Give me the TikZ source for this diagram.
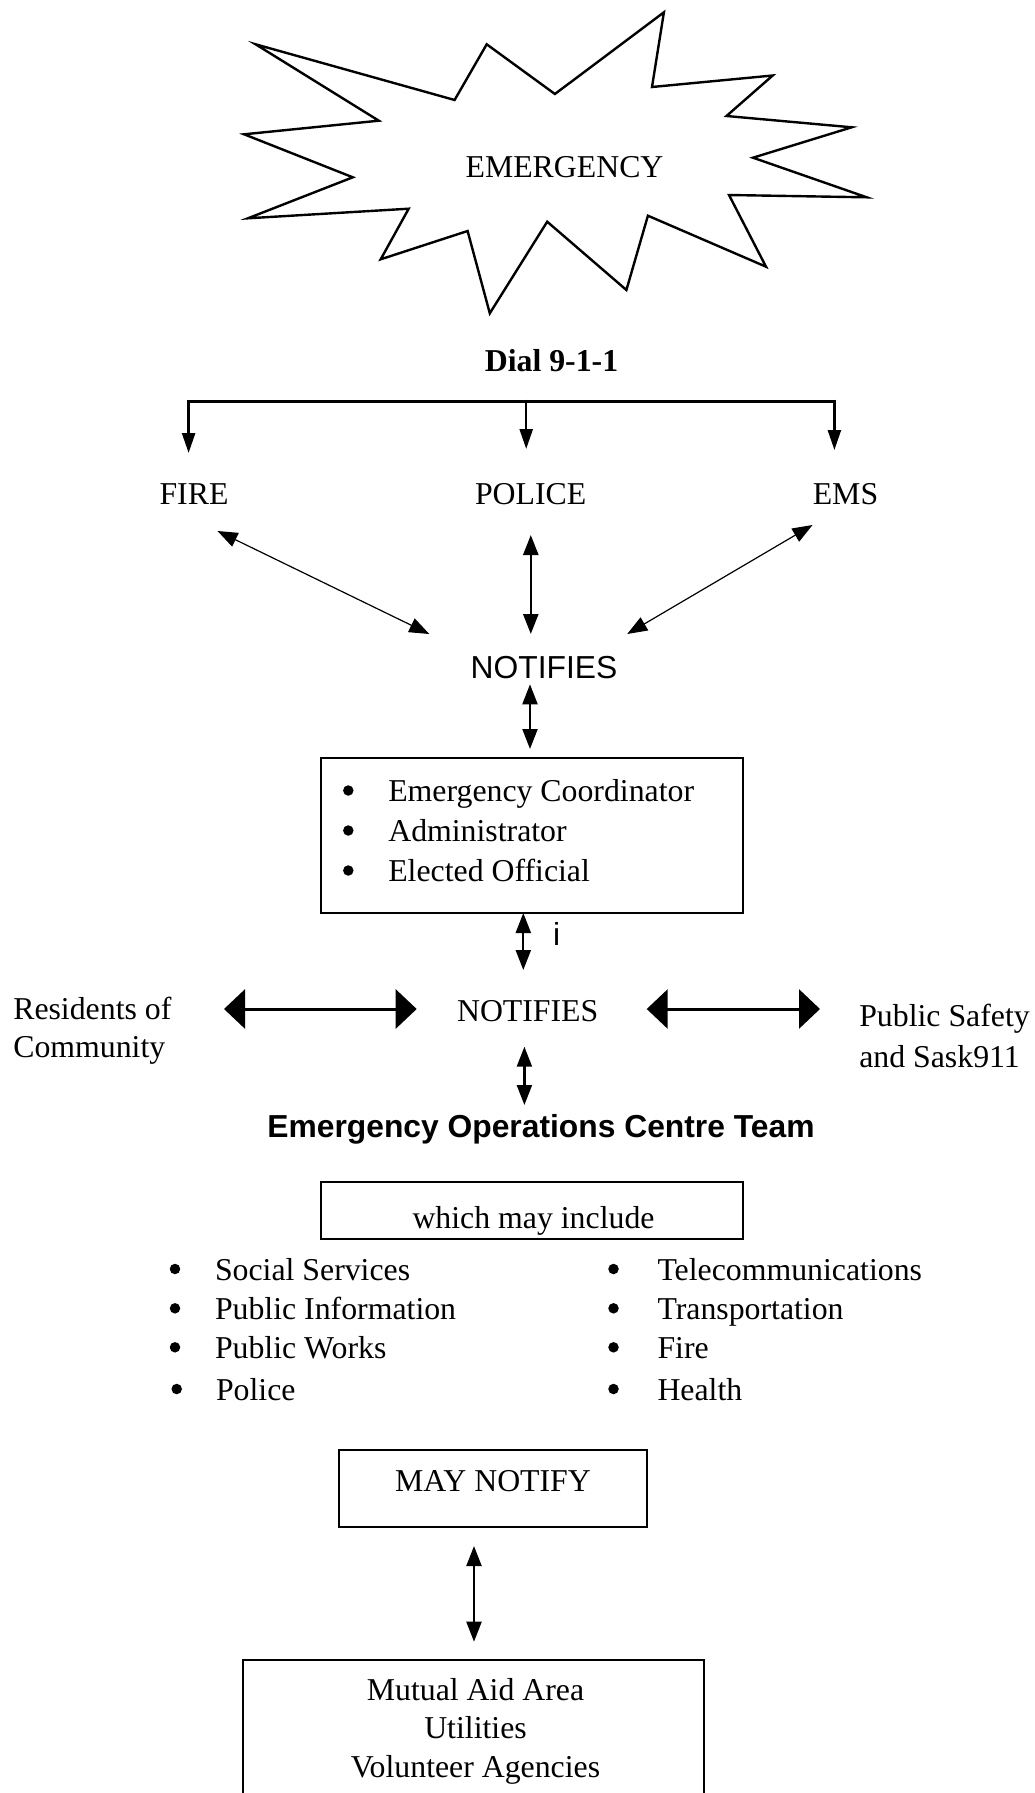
\documentclass[tikz,border=0pt]{standalone}
\usepackage{fontspec}
\setmainfont{Liberation Serif}
\setsansfont{Liberation Sans}
\usetikzlibrary{arrows.meta}
\newcommand\myfs{\fontsize{31.8}{38}\selectfont}
\begin{document}
\begin{tikzpicture}[x=1pt,y=-1pt,
  every node/.style={inner sep=0pt,outer sep=0pt,font=\myfs},
  lbl/.style={anchor=base},
  lbll/.style={anchor=base west},
  bul/.style={circle,fill,minimum size=10.5pt},
  frame/.style={draw,line width=1.8pt},
  darr/.style={line width=2.5pt,-{Triangle[length=20pt,width=13pt]}},
  diag/.style={line width=1.2pt,{Triangle[length=20pt,width=15pt]}-{Triangle[length=20pt,width=15pt]}},
  vdbl/.style={line width=2.2pt,{Triangle[length=20pt,width=15pt]}-{Triangle[length=20pt,width=15pt]}},
  hbig/.style={line width=3pt,{Triangle[length=21pt,width=39pt]}-{Triangle[length=21pt,width=39pt]}},
]
\useasboundingbox (0,0) rectangle (1034,1793);

% starburst
\draw[line width=2.4pt] (255.6,44.3) -- (378.8,120.7) -- (244.1,134.3) -- (352.8,177.3)
  -- (247.9,218.3) -- (408.7,208.7) -- (380.7,259.3) -- (467.6,231) -- (489.8,313.3)
  -- (547.2,221.7) -- (626.4,290) -- (647.9,215.7) -- (766,266.7) -- (729,195)
  -- (866.7,197.3) -- (753,157.7) -- (851.7,127.3) -- (726.5,116) -- (772.7,75.5)
  -- (652,87) -- (663.9,12.3) -- (554.9,94) -- (486.7,44.3) -- (454.6,100) -- cycle;
\node[lbl] (emg) at (564.5,177) {EMERGENCY};

% dial
\node[lbl,font=\myfs\bfseries] (dial) at (551.5,371) {Dial 9-1-1};
\coordinate (brL) at (187.3,401);
\coordinate (brR) at (835.4,401);
\draw[line width=3pt] (brL) -- (brR);
\coordinate (dF0) at (188.6,399.5); \coordinate (dF1) at (188.6,453);
\coordinate (dP0) at (526.2,399.5); \coordinate (dP1) at (526.2,449);
\coordinate (dE0) at (834.4,399.5); \coordinate (dE1) at (834.4,450);
\draw[darr] (dF0) -- (dF1);
\draw[darr] (dP0) -- (dP1);
\draw[darr] (dE0) -- (dE1);

\node[lbl] (fire) at (194,504) {FIRE};
\node[lbl] (police) at (530.7,504) {POLICE};
\node[lbl] (ems) at (845.5,504) {EMS};

\coordinate (fA) at (217.5,531); \coordinate (fB) at (429.3,634);
\coordinate (pA) at (530.8,535); \coordinate (pB) at (530.8,634);
\coordinate (eA) at (812.5,525); \coordinate (eB) at (627.2,634);
\draw[diag] (fA) -- (fB);
\draw[vdbl,line width=2.5pt] (pA) -- (pB);
\draw[diag] (eA) -- (eB);

\node[lbl,font=\myfs\sffamily] (notif1) at (544,678) {NOTIFIES};
\coordinate (n1a) at (530,684.3); \coordinate (n1b) at (530,749);
\draw[vdbl] (n1a) -- (n1b);

% coordinator box
\node[frame,minimum width=422.6pt,minimum height=154.4pt] (cbox) at (532,835.5) {};
\node[bul] (b1) at (348.3,790.5) {};
\node[bul] (b2) at (348.3,830.5) {};
\node[bul] (b3) at (348.3,870.5) {};
\node[lbll] (c1) at (388.3,801.7) {Emergency Coordinator};
\node[lbll] (c2) at (388.3,841.7) {Administrator};
\node[lbll] (c3) at (388.3,881.7) {Elected Official};

\coordinate (ia) at (523.3,913); \coordinate (ib) at (523.3,970);
\draw[vdbl] (ia) -- (ib);
\node[lbll,font=\myfs\sffamily] (iota) at (553,945) {i};

% notifies row
\node[lbll] (res1) at (13.3,1019.3) {Residents of};
\node[lbll] (res2) at (13.3,1057) {Community};
\node[lbl] (notif2) at (527.7,1021) {NOTIFIES};
\node[lbll] (ps1) at (859.3,1026) {Public Safety};
\node[lbll] (ps2) at (859.3,1067) {and Sask911};
\coordinate (hLa) at (224,1009); \coordinate (hLb) at (416.7,1009);
\coordinate (hRa) at (646.7,1009); \coordinate (hRb) at (820,1009);
\draw[hbig] (hLa) -- (hLb);
\draw[hbig] (hRa) -- (hRb);
\coordinate (n2a) at (524.4,1046.7); \coordinate (n2b) at (524.4,1105);
\draw[vdbl] (n2a) -- (n2b);

\node[lbl,font=\myfs\sffamily\bfseries] (eoc) at (541,1137) {Emergency Operations Centre Team};

\node[frame,minimum width=422.6pt,minimum height=57.6pt] (wbox) at (532,1210.5) {};
\node[lbl] (wtxt) at (533.5,1228) {which may include};

% lists
\node[bul] (lb1) at (175,1269) {};
\node[bul] (lb2) at (175,1308.3) {};
\node[bul] (lb3) at (175,1347.3) {};
\node[bul] (lb4) at (176.7,1389) {};
\node[lbll] (l1) at (215,1280) {Social Services};
\node[lbll] (l2) at (215,1319.3) {Public Information};
\node[lbll] (l3) at (215,1358.3) {Public Works};
\node[lbll] (l4) at (216,1400) {Police};
\node[bul] (rb1) at (613.5,1269) {};
\node[bul] (rb2) at (613.5,1308.3) {};
\node[bul] (rb3) at (613.5,1347.3) {};
\node[bul] (rb4) at (613.5,1389) {};
\node[lbll] (r1) at (657.5,1280) {Telecommunications};
\node[lbll] (r2) at (657.5,1319.3) {Transportation};
\node[lbll] (r3) at (657.5,1358.3) {Fire};
\node[lbll] (r4) at (657.5,1400) {Health};

% may notify
\node[frame,minimum width=308pt,minimum height=76.7pt] (mbox) at (493.3,1488.35) {};
\node[lbl] (mtxt) at (493,1491.7) {MAY NOTIFY};
\coordinate (ma) at (474,1546); \coordinate (mb) at (474,1641.7);
\draw[vdbl] (ma) -- (mb);

\node[frame,minimum width=461pt,minimum height=160pt] (abox) at (473.8,1740) {};
\node[lbl] (a1) at (475.5,1700) {Mutual Aid Area};
\node[lbl] (a2) at (475.5,1738) {Utilities};
\node[lbl] (a3) at (475.5,1777) {Volunteer Agencies};
\end{tikzpicture}
\end{document}
